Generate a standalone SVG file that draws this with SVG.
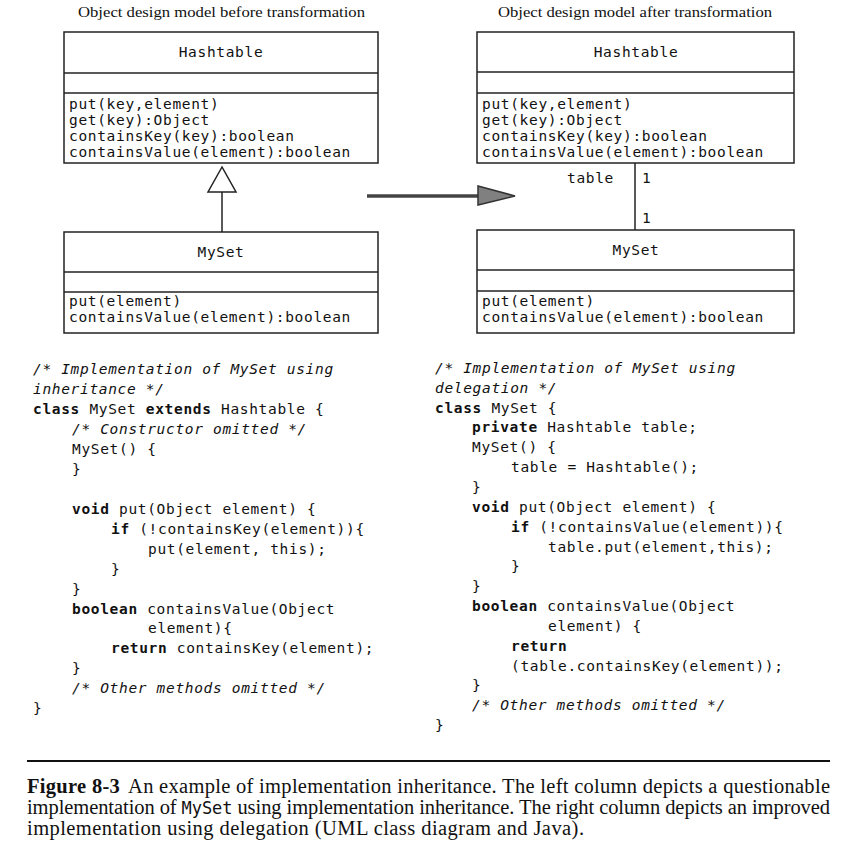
<svg xmlns="http://www.w3.org/2000/svg" width="845" height="852" viewBox="0 0 845 852">
<style>
.bg{fill:#ffffff}
.box{fill:#ffffff;stroke:#222;stroke-width:1.5}
.sep{stroke:#222;stroke-width:1.5;fill:none}
.title{font-family:"Liberation Serif","Times New Roman",serif;font-size:15.5px;fill:#111}
.mono{font-family:"DejaVu Sans Mono","Liberation Mono",monospace;font-size:14.5px;letter-spacing:0.67px;fill:#111}
.ctr{text-anchor:middle}
.kw{font-weight:bold}
.cm{font-style:italic}
.cap{font-family:"Liberation Serif","Times New Roman",serif;font-size:20.5px;fill:#111}
.capmono{font-family:"DejaVu Sans Mono","Liberation Mono",monospace;font-size:17px}
.line{stroke:#222;stroke-width:1.5;fill:none}
</style>
<rect class="bg" x="0" y="0" width="845" height="852"/>

<text class="title" x="78" y="17" textLength="287" lengthAdjust="spacingAndGlyphs">Object design model before transformation</text>
<text class="title" x="498" y="17" textLength="274" lengthAdjust="spacingAndGlyphs">Object design model after transformation</text>

<g id="hashtable-left">
<rect class="box" x="64" y="32" width="314" height="131"/>
<line class="sep" x1="64" y1="73" x2="378" y2="73"/>
<line class="sep" x1="64" y1="93" x2="378" y2="93"/>
<text class="mono ctr" x="221" y="57">Hashtable</text>
<text class="mono" x="69" y="109">put(key,element)</text>
<text class="mono" x="69" y="125">get(key):Object</text>
<text class="mono" x="69" y="141">containsKey(key):boolean</text>
<text class="mono" x="69" y="157">containsValue(element):boolean</text>
</g>

<g id="myset-left">
<rect class="box" x="64" y="232" width="314" height="101"/>
<line class="sep" x1="64" y1="272" x2="378" y2="272"/>
<line class="sep" x1="64" y1="292" x2="378" y2="292"/>
<text class="mono ctr" x="221" y="257">MySet</text>
<text class="mono" x="69" y="306">put(element)</text>
<text class="mono" x="69" y="322">containsValue(element):boolean</text>
</g>

<g id="hashtable-right">
<rect class="box" x="477" y="32" width="317" height="131"/>
<line class="sep" x1="477" y1="72" x2="794" y2="72"/>
<line class="sep" x1="477" y1="93" x2="794" y2="93"/>
<text class="mono ctr" x="636" y="57">Hashtable</text>
<text class="mono" x="482" y="109">put(key,element)</text>
<text class="mono" x="482" y="125">get(key):Object</text>
<text class="mono" x="482" y="141">containsKey(key):boolean</text>
<text class="mono" x="482" y="157">containsValue(element):boolean</text>
</g>

<g id="myset-right">
<rect class="box" x="477" y="230" width="317" height="103"/>
<line class="sep" x1="477" y1="270" x2="794" y2="270"/>
<line class="sep" x1="477" y1="291" x2="794" y2="291"/>
<text class="mono ctr" x="636" y="255">MySet</text>
<text class="mono" x="482" y="306">put(element)</text>
<text class="mono" x="482" y="322">containsValue(element):boolean</text>
</g>

<g id="connectors">
<line class="line" x1="222" y1="192" x2="222" y2="232"/>
<polygon points="222,167 208,192 236,192" fill="#ffffff" stroke="#222" stroke-width="1.5"/>
<line class="line" x1="635" y1="163" x2="635" y2="230"/>
<text class="mono" x="567" y="183">table</text>
<text class="mono" x="642" y="183">1</text>
<text class="mono" x="642" y="223">1</text>
<line x1="367" y1="196" x2="482" y2="196" stroke="#444" stroke-width="3.5"/>
<polygon points="478,186 515,196 478,205" fill="#808080" stroke="#333" stroke-width="1.5"/>
</g>

<g id="code-left" class="mono">
<text x="33" y="374" class="cm">/* Implementation of MySet using</text>
<text x="33" y="394" class="cm">inheritance */</text>
<text x="33" y="414"><tspan class="kw">class</tspan> MySet <tspan class="kw">extends</tspan> Hashtable {</text>
<text x="72" y="434" class="cm">/* Constructor omitted */</text>
<text x="72" y="454">MySet() {</text>
<text x="72" y="474">}</text>
<text x="72" y="514"><tspan class="kw">void</tspan> put(Object element) {</text>
<text x="111" y="534"><tspan class="kw">if</tspan> (!containsKey(element)){</text>
<text x="148" y="554">put(element, this);</text>
<text x="111" y="574">}</text>
<text x="72" y="594">}</text>
<text x="72" y="614"><tspan class="kw">boolean</tspan> containsValue(Object</text>
<text x="148" y="633">element){</text>
<text x="111" y="653"><tspan class="kw">return</tspan> containsKey(element);</text>
<text x="72" y="673">}</text>
<text x="72" y="693" class="cm">/* Other methods omitted */</text>
<text x="33" y="713">}</text>
</g>

<g id="code-right" class="mono">
<text x="435" y="373" class="cm">/* Implementation of MySet using</text>
<text x="435" y="393" class="cm">delegation */</text>
<text x="435" y="413"><tspan class="kw">class</tspan> MySet {</text>
<text x="472" y="432"><tspan class="kw">private</tspan> Hashtable table;</text>
<text x="472" y="452">MySet() {</text>
<text x="511" y="472">table = Hashtable();</text>
<text x="472" y="492">}</text>
<text x="472" y="512"><tspan class="kw">void</tspan> put(Object element) {</text>
<text x="511" y="532"><tspan class="kw">if</tspan> (!containsValue(element)){</text>
<text x="548" y="552">table.put(element,this);</text>
<text x="511" y="571">}</text>
<text x="472" y="591">}</text>
<text x="472" y="611"><tspan class="kw">boolean</tspan> containsValue(Object</text>
<text x="548" y="631">element) {</text>
<text x="511" y="651" class="kw">return</text>
<text x="511" y="671">(table.containsKey(element));</text>
<text x="472" y="690">}</text>
<text x="472" y="710" class="cm">/* Other methods omitted */</text>
<text x="435" y="730">}</text>
</g>

<g id="caption">
<line x1="27" y1="761" x2="830" y2="761" stroke="#111" stroke-width="2"/>
<text class="cap" x="27" y="793" textLength="803" lengthAdjust="spacing"><tspan font-weight="bold">Figure 8-3</tspan><tspan dx="8">An example of implementation inheritance. The left column depicts a questionable</tspan></text>
<text class="cap" x="27" y="814" textLength="803" lengthAdjust="spacing">implementation of <tspan class="capmono">MySet</tspan> using implementation inheritance. The right column depicts an improved</text>
<text class="cap" x="27" y="835" textLength="557" lengthAdjust="spacing">implementation using delegation (UML class diagram and Java).</text>
</g>
</svg>
